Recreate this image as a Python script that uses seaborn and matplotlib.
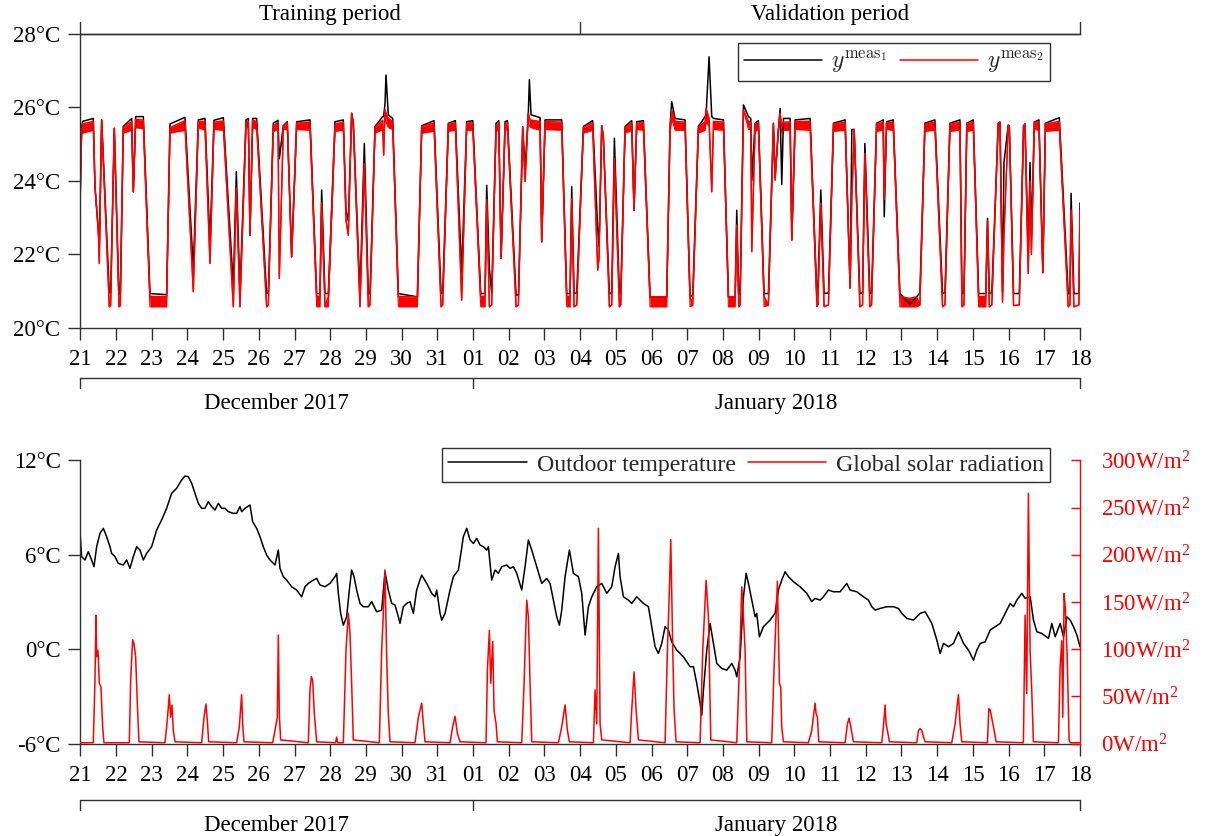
import matplotlib
matplotlib.use("Agg")
import matplotlib.pyplot as plt
from matplotlib.font_manager import FontProperties
from matplotlib.lines import Line2D
import seaborn as sns

# ---------------------------------------------------------------------------
# Time axis: days since 21 December 2017, 00:00
# ---------------------------------------------------------------------------
day_labels = ["21", "22", "23", "24", "25", "26", "27", "28", "29", "30", "31",
              "01", "02", "03", "04", "05", "06", "07", "08", "09", "10", "11",
              "12", "13", "14", "15", "16", "17", "18"]
month_labels = ["December 2017", "January 2018"]
month_edges = [0, 11, 28]
period_labels = ["Training period", "Validation period"]
period_edges = [0, 14, 28]

# ---------------------------------------------------------------------------
# Indoor air temperature (deg C): sensor 1 and the envelope of sensor 2
# ---------------------------------------------------------------------------
t_in = [0.000, 0.037, 0.065, 0.364, 0.411, 0.504, 0.532, 0.598, 0.812, 0.850,
        0.952, 1.083, 1.120, 1.204, 1.438, 1.485, 1.550, 1.765, 1.951, 2.418,
        2.512, 2.932, 3.165, 3.305, 3.492, 3.632, 3.744, 4.006, 4.286, 4.370,
        4.472, 4.641, 4.706, 4.753, 4.827, 4.939, 5.219, 5.266, 5.406, 5.537,
        5.574, 5.686, 5.798, 5.919, 6.060, 6.433, 6.620, 6.713, 6.760, 6.853,
        6.947, 7.134, 7.367, 7.442, 7.507, 7.600, 7.647, 7.834, 7.955, 8.067,
        8.114, 8.254, 8.469, 8.497, 8.534, 8.562, 8.627, 8.749, 8.908, 9.441,
        9.562, 9.908, 10.104, 10.150, 10.309, 10.505, 10.682, 10.823, 10.991, 11.215,
        11.336, 11.383, 11.458, 11.523, 11.645, 11.720, 11.786, 11.898, 11.963, 12.206,
        12.271, 12.392, 12.458, 12.550, 12.578, 12.625, 12.877, 12.924, 13.017, 13.483,
        13.623, 13.717, 13.764, 13.830, 13.904, 14.091, 14.351, 14.492, 14.529, 14.604,
        14.650, 14.819, 14.885, 14.959, 15.099, 15.137, 15.258, 15.444, 15.509, 15.584,
        15.771, 15.958, 16.424, 16.518, 16.564, 16.658, 16.938, 17.078, 17.153, 17.312,
        17.499, 17.527, 17.611, 17.686, 17.733, 18.013, 18.153, 18.340, 18.386, 18.442,
        18.480, 18.574, 18.714, 18.779, 18.807, 18.899, 18.993, 19.151, 19.273, 19.413,
        19.460, 19.553, 19.600, 19.647, 19.694, 19.881, 19.928, 20.021, 20.441, 20.628,
        20.656, 20.740, 20.833, 20.955, 21.095, 21.422, 21.562, 21.609, 21.675, 21.835,
        21.910, 21.975, 22.115, 22.162, 22.302, 22.489, 22.517, 22.582, 22.769, 22.956,
        23.236, 23.422, 23.516, 23.656, 23.936, 24.151, 24.217, 24.357, 24.637, 24.693,
        24.749, 24.830, 25.011, 25.160, 25.360, 25.410, 25.460, 25.530, 25.710, 25.760,
        25.830, 25.870, 25.990, 26.020, 26.140, 26.300, 26.420, 26.460, 26.550, 26.600,
        26.640, 26.720, 26.850, 26.960, 27.030, 27.420, 27.670, 27.720, 27.750, 27.830,
        27.970, 28.000]
meas1 = [23.70, 25.45, 25.62, 25.70, 23.84, 22.66, 22.30, 25.66, 20.95, 20.95,
         25.43, 20.90, 20.92, 25.48, 25.70, 23.70, 25.75, 25.75, 20.93, 20.90,
         25.55, 25.73, 21.60, 25.66, 25.70, 22.30, 25.65, 25.72, 21.12, 24.25,
         20.95, 25.66, 25.70, 22.52, 25.70, 25.70, 20.93, 20.95, 25.57, 25.65,
         24.60, 25.50, 25.61, 21.93, 25.61, 25.66, 20.93, 20.93, 23.75, 20.93,
         20.93, 25.61, 25.66, 23.20, 22.90, 25.84, 25.60, 20.93, 25.02, 20.93,
         20.93, 25.48, 25.75, 25.75, 26.10, 26.88, 25.80, 25.70, 20.93, 20.84,
         25.50, 25.64, 20.93, 20.95, 25.57, 25.64, 21.50, 25.61, 25.64, 20.93,
         20.93, 23.88, 21.60, 20.95, 25.57, 25.64, 21.89, 25.61, 25.64, 20.88,
         20.90, 25.48, 24.30, 25.90, 26.76, 25.80, 25.72, 22.34, 25.66, 25.66,
         20.93, 20.93, 23.84, 20.93, 20.95, 25.48, 25.64, 22.70, 22.20, 25.50,
         25.20, 20.93, 20.95, 25.16, 20.93, 20.95, 25.48, 25.64, 23.20, 25.61,
         25.64, 20.84, 20.84, 25.48, 26.16, 25.70, 25.66, 20.84, 20.90, 25.48,
         25.75, 25.80, 27.38, 25.75, 25.70, 25.66, 20.84, 20.84, 23.20, 20.90,
         20.95, 26.07, 25.75, 25.70, 24.00, 25.57, 25.64, 20.93, 20.93, 25.57,
         24.10, 25.40, 25.97, 23.90, 25.70, 25.70, 22.39, 25.66, 25.70, 20.93,
         20.93, 23.75, 20.93, 20.95, 25.57, 25.66, 21.10, 25.40, 25.40, 20.93,
         20.95, 25.02, 20.93, 20.95, 25.57, 25.66, 23.02, 25.61, 25.66, 20.93,
         20.65, 20.84, 20.95, 25.57, 25.66, 20.93, 20.95, 25.57, 25.66, 20.93,
         20.95, 25.57, 25.66, 20.93, 20.93, 22.98, 20.93, 20.95, 25.57, 25.60,
         20.98, 24.50, 25.52, 25.50, 20.93, 20.93, 25.50, 25.55, 22.00, 24.50,
         22.50, 25.60, 25.66, 21.50, 25.57, 25.72, 20.93, 20.93, 23.66, 20.93,
         20.93, 23.40]
meas2_hi = [23.66, 25.40, 25.55, 25.62, 23.84, 22.66, 21.75, 25.66, 20.57, 20.60,
            25.43, 20.57, 20.60, 25.45, 25.62, 23.70, 25.68, 25.65, 20.85, 20.85,
            25.45, 25.64, 20.98, 25.62, 25.62, 21.75, 25.60, 25.63, 20.57, 23.80,
            20.57, 25.60, 25.62, 22.52, 25.65, 25.62, 20.57, 20.62, 25.50, 25.60,
            21.34, 25.50, 25.58, 21.93, 25.58, 25.60, 20.85, 20.85, 23.40, 20.57,
            20.85, 25.55, 25.60, 22.93, 22.52, 25.84, 25.55, 20.57, 24.47, 20.57,
            20.62, 25.45, 25.65, 24.70, 25.93, 25.85, 25.70, 25.62, 20.85, 20.84,
            25.48, 25.58, 20.57, 20.62, 25.55, 25.58, 20.75, 25.58, 25.58, 20.85,
            20.85, 23.48, 20.57, 20.62, 25.50, 25.58, 21.89, 25.58, 25.58, 20.57,
            20.62, 25.45, 23.98, 25.84, 25.70, 25.65, 25.62, 22.34, 25.62, 25.60,
            20.85, 20.85, 23.52, 20.57, 20.62, 25.45, 25.58, 21.57, 21.90, 25.50,
            25.20, 20.57, 20.62, 24.61, 20.57, 20.62, 25.45, 25.58, 23.20, 25.58,
            25.58, 20.84, 20.84, 25.45, 25.93, 25.62, 25.60, 20.84, 20.62, 25.45,
            25.62, 25.97, 25.70, 23.70, 25.62, 25.60, 20.84, 20.84, 22.80, 20.57,
            20.62, 25.93, 25.62, 25.60, 22.07, 25.55, 25.58, 20.85, 20.62, 25.55,
            24.02, 25.40, 25.84, 25.50, 25.60, 25.60, 22.39, 25.62, 25.62, 20.85,
            20.62, 23.39, 20.57, 20.62, 25.55, 25.60, 21.07, 23.50, 25.40, 20.57,
            20.62, 24.75, 20.57, 20.62, 25.55, 25.60, 23.50, 25.58, 25.60, 20.85,
            20.80, 20.84, 20.62, 25.55, 25.60, 20.57, 20.62, 25.55, 25.60, 20.57,
            20.62, 25.55, 25.60, 20.85, 20.85, 22.90, 20.57, 20.62, 25.57, 25.60,
            20.70, 22.50, 25.50, 25.50, 20.60, 20.62, 25.50, 25.55, 21.48, 24.00,
            22.00, 25.60, 25.60, 21.50, 25.55, 25.62, 20.57, 20.62, 23.20, 20.57,
            20.62, 23.20]
meas2_lo = [23.66, 25.30, 25.30, 25.38, 23.84, 22.66, 21.75, 25.66, 20.57, 20.60,
            25.43, 20.57, 20.60, 25.30, 25.38, 23.70, 25.45, 25.42, 20.57, 20.57,
            25.30, 25.38, 20.98, 25.45, 25.38, 21.75, 25.40, 25.38, 20.57, 23.80,
            20.57, 25.45, 25.45, 22.52, 25.45, 25.40, 20.57, 20.62, 25.35, 25.40,
            21.34, 25.40, 25.40, 21.93, 25.40, 25.38, 20.57, 20.57, 23.40, 20.57,
            20.57, 25.35, 25.38, 22.93, 22.52, 25.84, 25.40, 20.57, 24.47, 20.57,
            20.62, 25.30, 25.40, 24.70, 25.93, 25.60, 25.45, 25.40, 20.57, 20.57,
            25.30, 25.35, 20.57, 20.62, 25.35, 25.38, 20.75, 25.38, 25.38, 20.57,
            20.57, 23.48, 20.57, 20.62, 25.35, 25.38, 21.89, 25.40, 25.38, 20.57,
            20.62, 25.30, 23.98, 25.84, 25.50, 25.45, 25.38, 22.34, 25.40, 25.38,
            20.57, 20.57, 23.52, 20.57, 20.62, 25.30, 25.38, 21.57, 21.90, 25.50,
            25.20, 20.57, 20.62, 24.61, 20.57, 20.62, 25.30, 25.38, 23.20, 25.40,
            25.38, 20.57, 20.57, 25.30, 25.70, 25.38, 25.38, 20.57, 20.62, 25.30,
            25.38, 25.60, 25.50, 23.70, 25.40, 25.38, 20.57, 20.57, 22.80, 20.57,
            20.62, 25.93, 25.40, 25.40, 22.07, 25.35, 25.38, 20.57, 20.62, 25.35,
            24.02, 25.40, 25.84, 25.30, 25.38, 25.38, 22.39, 25.40, 25.38, 20.57,
            20.62, 23.39, 20.57, 20.62, 25.35, 25.38, 21.07, 23.50, 25.40, 20.57,
            20.62, 24.75, 20.57, 20.62, 25.35, 25.38, 23.50, 25.40, 25.38, 20.57,
            20.57, 20.57, 20.62, 25.35, 25.38, 20.57, 20.62, 25.35, 25.38, 20.57,
            20.62, 25.35, 25.38, 20.57, 20.57, 22.90, 20.57, 20.62, 25.57, 25.40,
            20.70, 22.50, 25.50, 25.40, 20.60, 20.62, 25.35, 25.40, 21.48, 24.00,
            22.00, 25.40, 25.38, 21.50, 25.35, 25.38, 20.57, 20.62, 23.20, 20.57,
            20.62, 23.20]

# ---------------------------------------------------------------------------
# Outdoor air temperature (deg C)
# ---------------------------------------------------------------------------
t_out = [0.000, 0.037, 0.131, 0.224, 0.317, 0.383, 0.458, 0.551, 0.644, 0.738,
         0.831, 0.878, 0.971, 1.064, 1.204, 1.298, 1.391, 1.485, 1.578, 1.671,
         1.765, 1.858, 1.998, 2.138, 2.278, 2.418, 2.558, 2.698, 2.838, 2.932,
         3.025, 3.119, 3.212, 3.305, 3.399, 3.492, 3.585, 3.679, 3.772, 3.866,
         3.959, 4.052, 4.146, 4.286, 4.379, 4.472, 4.519, 4.613, 4.753, 4.827,
         4.939, 5.033, 5.126, 5.219, 5.313, 5.453, 5.546, 5.593, 5.686, 5.780,
         5.920, 6.060, 6.200, 6.293, 6.387, 6.527, 6.620, 6.713, 6.853, 6.993,
         7.134, 7.180, 7.227, 7.292, 7.367, 7.460, 7.535, 7.600, 7.666, 7.740,
         7.834, 7.927, 8.067, 8.161, 8.301, 8.441, 8.534, 8.627, 8.721, 8.814,
         8.908, 8.954, 9.048, 9.141, 9.234, 9.328, 9.421, 9.496, 9.562, 9.702,
         9.843, 9.936, 9.983, 10.076, 10.123, 10.216, 10.356, 10.450, 10.590, 10.729,
         10.823, 10.916, 11.010, 11.103, 11.196, 11.290, 11.383, 11.430, 11.523, 11.617,
         11.710, 11.804, 11.943, 12.037, 12.130, 12.224, 12.364, 12.457, 12.550, 12.644,
         12.784, 12.924, 13.064, 13.157, 13.251, 13.344, 13.419, 13.484, 13.578, 13.699,
         13.811, 13.951, 14.045, 14.138, 14.231, 14.325, 14.465, 14.605, 14.745, 14.885,
         14.978, 15.072, 15.118, 15.212, 15.352, 15.445, 15.585, 15.772, 15.912, 16.005,
         16.099, 16.192, 16.285, 16.379, 16.472, 16.565, 16.706, 16.892, 17.079, 17.173,
         17.266, 17.360, 17.406, 17.453, 17.546, 17.640, 17.733, 17.826, 17.966, 18.106,
         18.247, 18.340, 18.386, 18.480, 18.574, 18.649, 18.714, 18.807, 18.901, 18.946,
         19.021, 19.133, 19.319, 19.459, 19.553, 19.646, 19.740, 19.833, 19.973, 20.160,
         20.347, 20.487, 20.580, 20.721, 20.814, 20.954, 21.094, 21.281, 21.468, 21.561,
         21.748, 21.935, 22.075, 22.168, 22.262, 22.402, 22.589, 22.776, 22.916, 23.009,
         23.149, 23.336, 23.429, 23.523, 23.663, 23.850, 23.990, 24.083, 24.177, 24.317,
         24.457, 24.597, 24.737, 24.877, 25.017, 25.110, 25.204, 25.344, 25.484, 25.624,
         25.764, 25.904, 26.044, 26.137, 26.230, 26.371, 26.464, 26.604, 26.697, 26.791,
         26.931, 27.118, 27.211, 27.305, 27.445, 27.538, 27.632, 27.725, 27.818, 27.912,
         28.000]
temp_out = [7.15, 5.88, 5.67, 6.19, 5.67, 5.24, 6.51, 7.36, 7.68, 7.15,
            6.51, 6.09, 5.88, 5.45, 5.35, 5.67, 5.14, 5.88, 6.51, 6.30,
            5.67, 6.09, 6.51, 7.57, 8.21, 8.95, 9.90, 10.22, 10.75, 11.00,
            10.96, 10.54, 9.90, 9.27, 8.95, 8.95, 9.37, 9.06, 8.84, 9.27,
            8.95, 8.95, 8.74, 8.63, 8.63, 9.06, 8.74, 8.95, 9.16, 8.10,
            7.68, 7.15, 6.51, 5.98, 5.67, 5.35, 6.30, 5.14, 4.61, 4.39,
            3.97, 3.76, 3.33, 3.97, 4.18, 4.39, 4.50, 4.08, 3.97, 4.18,
            4.61, 4.82, 3.55, 2.28, 1.53, 2.06, 3.76, 5.03, 4.61, 3.76,
            2.91, 2.70, 2.70, 3.02, 2.38, 2.49, 4.92, 3.76, 2.91, 2.81,
            2.06, 1.64, 2.70, 2.91, 3.02, 2.28, 3.76, 4.29, 4.71, 4.18,
            3.55, 3.33, 3.76, 2.28, 1.85, 2.28, 3.76, 4.61, 5.03, 7.15,
            7.68, 6.94, 6.72, 7.04, 6.62, 6.51, 6.30, 6.51, 4.39, 5.03,
            4.82, 5.24, 5.35, 5.14, 5.24, 4.82, 3.76, 5.24, 6.94, 6.30,
            5.24, 4.18, 4.50, 4.18, 3.12, 2.06, 1.53, 2.49, 4.61, 6.30,
            4.82, 4.61, 3.55, 0.90, 2.70, 3.33, 3.97, 4.18, 3.55, 3.97,
            5.24, 6.09, 4.61, 3.33, 3.12, 2.91, 3.33, 2.91, 2.70, 1.43,
            0.16, -0.27, 0.37, 1.43, 1.22, 0.47, -0.06, -0.48, -1.11, -1.11,
            -2.17, -3.44, -4.19, -2.60, -0.06, 1.64, 0.37, -0.90, -1.22, -1.33,
            -0.90, -1.33, -1.75, -0.48, 3.33, 4.82, 4.18, 3.12, 2.06, 2.28,
            0.79, 1.43, 1.85, 2.28, 3.76, 4.39, 4.92, 4.61, 4.29, 3.97,
            3.55, 3.02, 3.23, 3.12, 3.33, 3.76, 3.65, 3.65, 4.18, 3.76,
            3.65, 3.33, 3.12, 2.70, 2.49, 2.59, 2.70, 2.70, 2.59, 2.28,
            1.96, 1.85, 2.06, 2.28, 2.38, 1.64, 0.58, -0.27, 0.37, 0.16,
            0.37, 1.11, 0.37, -0.06, -0.69, -0.06, 0.37, 0.47, 1.22, 1.43,
            1.64, 2.28, 2.91, 2.70, 3.12, 3.55, 3.23, 3.33, 1.85, 1.11,
            1.00, 0.69, 1.64, 0.79, 1.64, 0.79, 2.06, 1.85, 1.43, 0.90,
            0.16]

# ---------------------------------------------------------------------------
# Global solar radiation (W/m^2)
# ---------------------------------------------------------------------------
t_sun = [0.000, 0.364, 0.411, 0.439, 0.458, 0.495, 0.532, 0.579, 0.626, 0.663,
         1.373, 1.410, 1.466, 1.503, 1.550, 1.597, 1.643,
         2.372, 2.437, 2.493, 2.530, 2.568, 2.605, 2.652,
         3.399, 3.464, 3.520, 3.557, 3.595,
         4.379, 4.454, 4.519, 4.547, 4.585,
         5.387, 5.453, 5.518, 5.546, 5.574, 5.611,
         6.387, 6.433, 6.471, 6.508, 6.555, 6.620,
         7.150, 7.180, 7.210,
         7.367, 7.442, 7.507, 7.554, 7.600, 7.647,
         8.375, 8.441, 8.487, 8.534, 8.581, 8.627, 8.674,
         9.375, 9.469, 9.562, 9.609, 9.655,
         10.356, 10.430, 10.496, 10.561, 10.636,
         11.364, 11.402, 11.458, 11.495, 11.551, 11.589, 11.645, 11.682,
         12.364, 12.429, 12.504, 12.550, 12.597, 12.644,
         13.390, 13.484, 13.578, 13.643, 13.699,
         14.371, 14.418, 14.465, 14.511, 14.558, 14.605,
         15.398, 15.445, 15.510, 15.566, 15.632,
         16.379, 16.444, 16.500, 16.538, 16.594, 16.631, 16.687,
         17.360, 17.434, 17.528, 17.593, 17.659,
         18.386, 18.461, 18.527, 18.574, 18.620, 18.667,
         19.366, 19.432, 19.525, 19.581, 19.618, 19.646, 19.693,
         20.393, 20.487, 20.580, 20.608, 20.646, 20.683,
         21.420, 21.486, 21.532, 21.579, 21.654,
         22.447, 22.494, 22.541, 22.569, 22.606, 22.662,
         23.429, 23.476, 23.523, 23.570, 23.617, 23.663,
         24.408, 24.501, 24.595, 24.641, 24.688,
         25.408, 25.446, 25.483, 25.530, 25.576, 25.651,
         26.415, 26.462, 26.508, 26.555, 26.602, 26.648, 26.695,
         27.396, 27.443, 27.489, 27.517, 27.555, 27.592, 27.639, 27.695, 27.732,
         28.000]
solar = [1, 1, 67, 136, 92, 99, 64, 60, 18, 1,
         1, 67, 110, 106, 92, 43, 2,
         1, 25, 52, 28, 41, 14, 2,
         1, 28, 42, 25, 2,
         1, 18, 52, 21, 2,
         1, 14, 28, 115, 32, 4,
         1, 57, 71, 67, 32, 2,
         1, 7, 1,
         1, 99, 138, 117, 64, 4,
         1, 99, 138, 184, 92, 32, 2,
         1, 28, 43, 21, 2,
         1, 18, 29, 11, 2,
         1, 78, 120, 64, 108, 35, 21, 2,
         1, 64, 152, 134, 64, 2,
         1, 18, 41, 14, 2,
         1, 57, 21, 228, 21, 4,
         1, 36, 76, 36, 4,
         1, 99, 163, 216, 99, 36, 2,
         1, 99, 173, 134, 4,
         1, 81, 166, 134, 99, 2,
         1, 81, 172, 64, 60, 18, 2,
         1, 14, 43, 32, 28, 2,
         1, 21, 27, 18, 2,
         1, 18, 41, 21, 14, 2,
         1, 14, 16, 14, 7, 2,
         1, 21, 52, 21, 2,
         1, 37, 36, 27, 18, 2,
         1, 136, 53, 265, 99, 57, 2,
         1, 81, 109, 28, 159, 141, 95, 4, 1,
         1]

indoor_ticks = [20, 22, 24, 26, 28]
outdoor_ticks = [-6, 0, 6, 12]
outdoor_tick_labels = ["-6°C", "0°C", "6°C", "12°C"]
solar_ticks = [0, 50, 100, 150, 200, 250, 300]

# ---------------------------------------------------------------------------
# Styling
# ---------------------------------------------------------------------------
sns.set_theme(style="ticks")
FONT = ["Liberation Serif", "DejaVu Serif"]
plt.rcParams["font.family"] = FONT
plt.rcParams["mathtext.fontset"] = "custom"
plt.rcParams["mathtext.rm"] = "Liberation Serif"
plt.rcParams["mathtext.it"] = "Liberation Serif:italic"
FS = 16.5
SPINE = "#303030"
LW = 1.1

W, H = 1211, 836
fig = plt.figure(figsize=(W / 100, H / 100), dpi=100)
fig.patch.set_facecolor("white")

ax1 = fig.add_axes([80.3 / W, 1 - 327.7 / H, 999.7 / W, 293.7 / H])
ax2 = fig.add_axes([80.3 / W, 1 - 743.7 / H, 999.7 / W, 283.4 / H])
ax2r = ax2.twinx()

# --- indoor temperatures -----------------------------------------------------
sns.lineplot(x=t_in, y=meas1, ax=ax1, color="black", lw=LW,
             estimator=None, sort=False)
ax1.fill_between(t_in, meas2_lo, meas2_hi, color="red", lw=0)
sns.lineplot(x=t_in, y=meas2_hi, ax=ax1, color="red", lw=LW,
             estimator=None, sort=False)
sns.lineplot(x=t_in, y=meas2_lo, ax=ax1, color="red", lw=0.8,
             estimator=None, sort=False)

# --- outdoor temperature and solar radiation --------------------------------
sns.lineplot(x=t_out, y=temp_out, ax=ax2, color="black", lw=LW,
             estimator=None, sort=False)
sns.lineplot(x=t_sun, y=solar, ax=ax2r, color="red", lw=LW,
             estimator=None, sort=False)

# --- axes ------------------------------------------------------------------
n_days = len(day_labels) - 1
for ax in (ax1, ax2):
    ax.set_xlim(0, n_days)
    ax.set_xticks(range(n_days + 1))
    ax.set_xticklabels(day_labels)
    ax.set_xlabel("")
    ax.set_ylabel("")
    ax.tick_params(axis="x", direction="out", length=8.5, width=1.0,
                   color=SPINE, pad=6.5, labelsize=FS, labelcolor="black")
    ax.tick_params(axis="y", direction="out", length=8.5, width=1.0,
                   color=SPINE, pad=5.8, labelsize=FS, labelcolor="black")
    ax.spines["right"].set_visible(False)
    for s in ("left", "bottom", "top"):
        ax.spines[s].set_color(SPINE)
        ax.spines[s].set_linewidth(1.0)
    ax.set_facecolor("none")

ax1.set_ylim(indoor_ticks[0], indoor_ticks[-1])
ax1.set_yticks(indoor_ticks)
ax1.set_yticklabels([f"{v}°C" for v in indoor_ticks])

ax2.spines["top"].set_visible(False)
ax2.set_ylim(outdoor_ticks[0], outdoor_ticks[-1])
ax2.set_yticks(outdoor_ticks)
ax2.set_yticklabels(outdoor_tick_labels)

ax2r.set_ylim(solar_ticks[0], solar_ticks[-1])
ax2r.set_yticks(solar_ticks)
ax2r.set_yticklabels([rf"{v}W/m$^2$" for v in solar_ticks])
ax2r.set_ylabel("")
ax2r.tick_params(axis="y", direction="in", length=6.7, width=1.0,
                 color="red", labelcolor="red", pad=15, labelsize=FS)
for s in ("top", "left", "bottom"):
    ax2r.spines[s].set_visible(False)
ax2r.spines["right"].set_color("red")
ax2r.spines["right"].set_linewidth(1.0)


# --- bracket annotations (periods on top, months below the day ticks) --------
def bracket(ax, edges, labels, y_line, y_tick, y_text, va):
    tr = ax.get_xaxis_transform()
    ax.plot([edges[0], edges[-1]], [y_line, y_line], transform=tr,
            color=SPINE, lw=1.0, clip_on=False)
    for e in edges:
        ax.plot([e, e], [y_line, y_tick], transform=tr, color=SPINE,
                lw=1.0, clip_on=False)
    for a, b, lab in zip(edges[:-1], edges[1:], labels):
        ax.text((a + b) / 2, y_text, lab, transform=tr, ha="center", va=va,
                fontsize=FS, color="black")


bracket(ax1, period_edges, period_labels, 1.0, 1.041, 1.066, "center")
bracket(ax1, month_edges, month_labels, -0.171, -0.205, -0.222, "top")
bracket(ax2, month_edges, month_labels, -0.199, -0.234, -0.250, "top")

# --- legends -----------------------------------------------------------------
leg_kw = dict(ncol=2, loc="upper right", borderaxespad=0, handlelength=3.3,
              handletextpad=0.4, columnspacing=0.5, borderpad=0.25,
              fancybox=False, framealpha=1, edgecolor=SPINE)
h = [Line2D([], [], color="black", lw=LW), Line2D([], [], color="red", lw=LW)]

leg1 = ax1.legend(h, [r"$y^{\mathrm{meas}_1}$", r"$y^{\mathrm{meas}_2}$"],
                  bbox_to_anchor=(0.970, 0.969),
                  prop=FontProperties(family=FONT, size=17, math_fontfamily="cm"),
                  **leg_kw)
leg1.get_frame().set_linewidth(1.0)

leg2 = ax2r.legend(h, ["Outdoor temperature", "Global solar radiation"],
                   bbox_to_anchor=(0.970, 1.043),
                   prop=FontProperties(family=FONT, size=17.2), **leg_kw)
leg2.get_frame().set_linewidth(1.0)

fig.savefig("out.png", dpi=100, facecolor="white")
